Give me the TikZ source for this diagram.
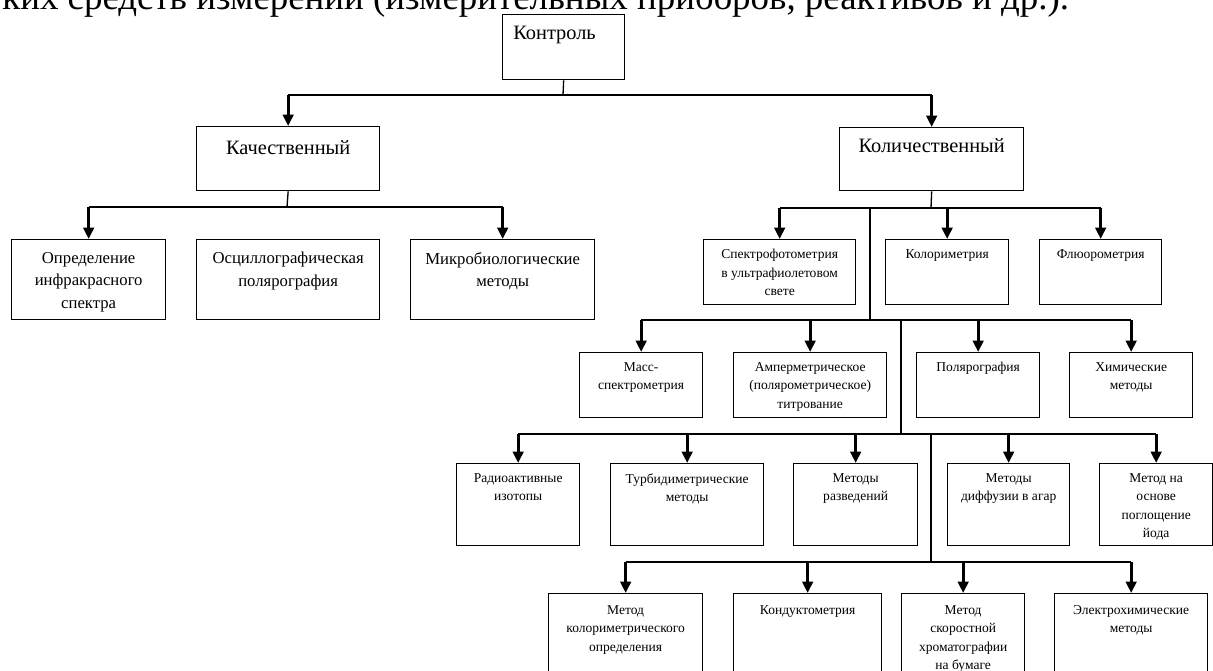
\documentclass[tikz,border=0pt]{standalone}
\usepackage{fontspec}
\setmainfont{Liberation Serif}
\usetikzlibrary{arrows.meta}

\begin{document}
\begin{tikzpicture}
    [x=0.02cm,y=-0.02cm,
     box/.style 2 args={draw=black,line width=0.75pt,anchor=north west,inner sep=0pt,
       minimum width=#1*0.02cm,minimum height=#2*0.02cm},
     big/.style={anchor=north,inner sep=0pt,yshift=-0.28cm,font=\fontsize{11.6}{13}\selectfont},
     mid/.style={anchor=north,inner sep=0pt,align=center,yshift=-0.26cm,font=\fontsize{9.5}{12.75}\selectfont},
     small/.style={anchor=north,inner sep=0pt,align=center,yshift=-0.2cm,font=\fontsize{7.7}{10.5}\selectfont},
     bus/.style={line width=0.75pt},
     pre/.style={<-,>={Triangle[length=6.5pt,width=6pt]},line width=1.7pt}]
    \clip (0,0) rectangle (1213,670);
    \node [anchor=base west,inner sep=0pt,font=\fontsize{21}{25}\selectfont] (intro) at (2,9)
      {ких средств измерений (измерительных приборов, реактивов и др.).};
    % bus points
    \coordinate (b1) at (563,95);
    \coordinate (b2) at (287,207);
    \coordinate (b3) at (931,208);
    \coordinate (v3) at (870,208);
    \coordinate (b4) at (870,320);
    \coordinate (v4) at (901,320);
    \coordinate (b5) at (901,434);
    \coordinate (v5) at (931,434);
    \coordinate (b6) at (931,562);
    % top
    \node [box={122}{65},label={[big,anchor=north west,xshift=0.22cm,yshift=0.04cm]north west:Контроль}] (kontrol) at (502,14) {};
    \node [box={183}{64},label={[big]north:Качественный}] (kach) at (196,126) {}
      edge [pre] (b1 -| kach.north);
    \node [box={184}{63},label={[big,yshift=0.06cm]north:Количественный}] (kolich) at (839,127) {}
      edge [pre] (b1 -| kolich.north);
    % qualitative
    \node [box={154}{80},label={[mid]north:Определение\\инфракрасного\\спектра}] (opred) at (11,239) {}
      edge [pre] (b2 -| opred.north);
    \node [box={183}{80},label={[mid]north:Осциллографическая\\полярография}] (oscil) at (196,239) {};
    \node [box={184}{80},label={[mid]north:Микробиологические\\методы}] (mikro) at (410,239) {}
      edge [pre] (b2 -| mikro.north);
    % quantitative
    \node [box={152}{65},label={[small]north:Спектрофотометрия\\в ультрафиолетовом\\свете}] (spektr) at (703,239) {}
      edge [pre] (b3 -| spektr.north);
    \node [box={123}{65},label={[small]north:Колориметрия}] (kolor) at (885,239) {}
      edge [pre] (b3 -| kolor.north);
    \node [box={122}{65},label={[small]north:Флюорометрия}] (fluor) at (1039,239) {}
      edge [pre] (b3 -| fluor.north);
    \node [box={123}{65},label={[small]north:Масс-\\спектрометрия}] (mass) at (579,352) {}
      edge [pre] (b4 -| mass.north);
    \node [box={153}{65},label={[small]north:Амперметрическое\\(полярометрическое)\\титрование}] (amper) at (733,352) {}
      edge [pre] (b4 -| amper.north);
    \node [box={123}{65},label={[small]north:Полярография}] (polar) at (916,352) {}
      edge [pre] (b4 -| polar.north);
    \node [box={123}{65},label={[small]north:Химические\\методы}] (khim) at (1069,352) {}
      edge [pre] (b4 -| khim.north);
    \node [box={123}{82},label={[small]north:Радиоактивные\\изотопы}] (radio) at (456,463) {}
      edge [pre] (b5 -| radio.north);
    \node [box={153}{82},label={[small]north:Турбидиметрические\\методы}] (turb) at (610,463) {}
      edge [pre] (b5 -| turb.north);
    \node [box={124}{82},label={[small]north:Методы\\разведений}] (razv) at (793,463) {}
      edge [pre] (b5 -| razv.north);
    \node [box={122}{82},label={[small]north:Методы\\диффузии в агар}] (diff) at (947,463) {}
      edge [pre] (b5 -| diff.north);
    \node [box={113}{82},label={[small]north:Метод на\\основе\\поглощение\\йода}] (osnova) at (1099,463) {}
      edge [pre] (b5 -| osnova.north);
    \node [box={154}{110},label={[small,yshift=-0.04cm]north:Метод\\колориметрического\\определения}] (kolorm) at (548,593) {}
      edge [pre] (b6 -| kolorm.north);
    \node [box={148}{110},label={[small,yshift=-0.04cm]north:Кондуктометрия}] (kond) at (733,593) {}
      edge [pre] (b6 -| kond.north);
    \node [box={123}{110},label={[small,yshift=-0.04cm]north:Метод\\скоростной\\хроматографии\\на бумаге}] (skor) at (901,593) {}
      edge [pre] (b6 -| skor.north);
    \node [box={153}{110},label={[small,yshift=-0.04cm]north:Электрохимические\\методы}] (elektro) at (1054,593) {}
      edge [pre] (b6 -| elektro.north);
    % buses
    \draw [bus] (kontrol.south) -- (b1);
    \draw [bus] (b1 -| kach.north) -- (b1 -| kolich.north);
    \draw [bus] (kach.south) -- (b2);
    \draw [bus] (b2 -| opred.north) -- (b2 -| mikro.north);
    \draw [bus] (kolich.south) -- (b3);
    \draw [bus] (b3 -| spektr.north) -- (b3 -| fluor.north);
    \draw [bus] (v3) -- (b4);
    \draw [bus] (b4 -| mass.north) -- (b4 -| khim.north);
    \draw [bus] (v4) -- (b5);
    \draw [bus] (b5 -| radio.north) -- (b5 -| osnova.north);
    \draw [bus] (v5) -- (b6);
    \draw [bus] (b6 -| kolorm.north) -- (b6 -| elektro.north);
  \end{tikzpicture}
\end{document}
